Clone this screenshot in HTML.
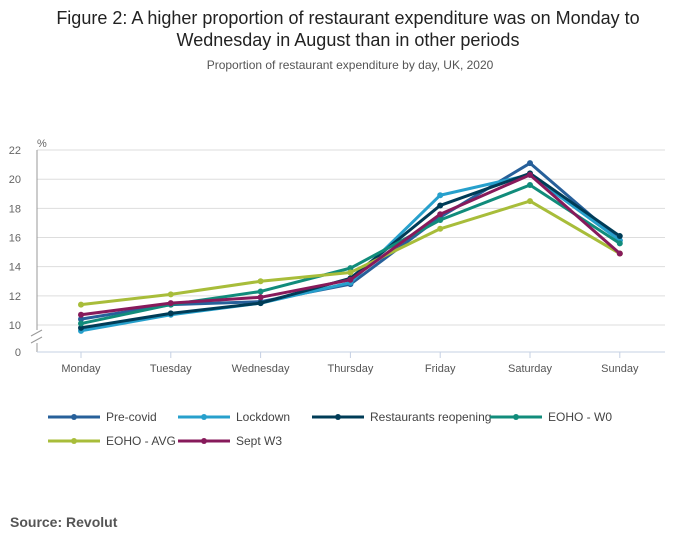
<!DOCTYPE html>
<html><head><meta charset="utf-8"><style>
body{margin:0;background:#fff;font-family:"Liberation Sans",sans-serif;}
svg text{font-family:"Liberation Sans",sans-serif;}
</style></head><body>
<svg id="c" width="700" height="549" xmlns="http://www.w3.org/2000/svg">
<text x="348" y="24" text-anchor="middle" font-size="18" fill="#222">Figure 2: A higher proportion of restaurant expenditure was on Monday to</text>
<text x="348" y="46" text-anchor="middle" font-size="18" fill="#222">Wednesday in August than in other periods</text>
<text x="350" y="69" text-anchor="middle" font-size="12" fill="#555">Proportion of restaurant expenditure by day, UK, 2020</text>
<text x="37" y="147" font-size="11" fill="#666">%</text>
<g id="grid"></g><g id="series"></g><g id="legend"></g>
<text x="10" y="527" font-size="14" font-weight="bold" fill="#555">Source: Revolut</text>
</svg>
<script>
const categories=["Monday","Tuesday","Wednesday","Thursday","Friday","Saturday","Sunday"];
const yTicks=[10,12,14,16,18,20,22];
const seriesNames=["Pre-covid","Lockdown","Restaurants reopening","EOHO - W0","EOHO - AVG","Sept W3"];
const preCovid=[10.4,11.4,11.6,12.8,17.4,21.1,15.8];
const lockdown=[9.6,10.7,11.5,12.9,18.9,20.3,15.8];
const reopening=[9.8,10.8,11.5,13.2,18.2,20.4,16.1];
const eohoW0=[10.1,11.4,12.3,13.9,17.2,19.6,15.6];
const eohoAvg=[11.4,12.1,13.0,13.6,16.6,18.5,14.9];
const septW3=[10.7,11.5,11.9,13.1,17.6,20.3,14.9];
const allSeries=[preCovid,lockdown,reopening,eohoW0,eohoAvg,septW3];
const colors=["#27609a","#27a0cc","#003c57","#118c7b","#a8bd3a","#871a5b"];
const NS="http://www.w3.org/2000/svg";
function x(i){return 81+i*89.8;}
function y(v){return 325-(v-10)*14.58;}
function el(t,a,p){const e=document.createElementNS(NS,t);for(const k in a)e.setAttribute(k,a[k]);p.appendChild(e);return e;}
const g=document.getElementById('grid');
yTicks.forEach(t=>{
 const l=el('line',{x1:37,x2:665,y1:y(t),y2:y(t),stroke:'#ddd','stroke-width':1},g);
 
 
 const tx=el('text',{x:21,y:y(t)+4,'text-anchor':'end','font-size':11,fill:'#666'},g);tx.textContent=t;
 
 
});
const z=el('text',{x:21,y:356,'text-anchor':'end','font-size':11,fill:'#666'},g);z.textContent='0';


el('line',{x1:37,x2:37,y1:150,y2:330,stroke:'#999'},g);
el('line',{x1:37,x2:37,y1:343,y2:352,stroke:'#999'},g);
el('line',{x1:31,x2:42,y1:336,y2:330,stroke:'#999'},g);
el('line',{x1:31,x2:42,y1:343,y2:337,stroke:'#999'},g);
el('line',{x1:37,x2:665,y1:352,y2:352,stroke:'#c5d0e3'},g);
categories.forEach((c,i)=>{
 el('line',{x1:x(i),x2:x(i),y1:352,y2:358,stroke:'#c5d0e3'},g);
 const t=el('text',{x:x(i),y:372,'text-anchor':'middle','font-size':11,fill:'#555'},g);t.textContent=c;
 
 
});
const s=document.getElementById('series');
allSeries.forEach((d,k)=>{
 const p=el('polyline',{points:d.map((v,i)=>x(i)+','+y(v)).join(' '),fill:'none',stroke:colors[k],'stroke-width':3,'stroke-linejoin':'round'},s);
 
 
 d.forEach((v,i)=>{const c=el('circle',{cx:x(i),cy:y(v),r:3,fill:colors[k]},s);
 
 });
});
const lg=document.getElementById('legend');
const lpos=[[48,417],[178,417],[312,417],[490,417],[48,441],[178,441]];
seriesNames.forEach((n,k)=>{
 const [lx,ly]=lpos[k];
 const gr=el('g',{},lg);
 
 
 el('line',{x1:lx,x2:lx+52,y1:ly,y2:ly,stroke:colors[k],'stroke-width':3},gr);
 el('circle',{cx:lx+26,cy:ly,r:3,fill:colors[k]},gr);
 const t=el('text',{x:lx+58,y:ly+4,'font-size':12,fill:'#444'},gr);t.textContent=n;
});
</script>
</body></html>
